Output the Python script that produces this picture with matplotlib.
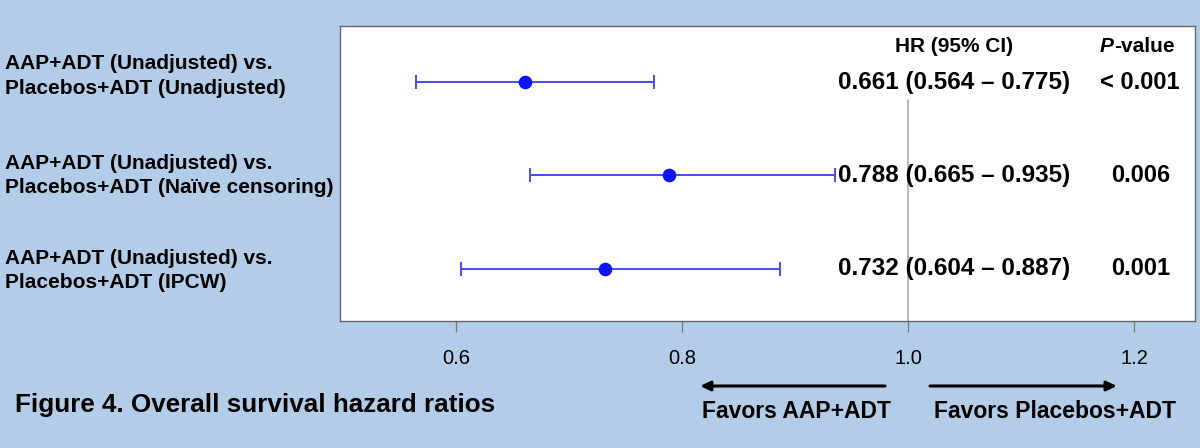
import matplotlib
matplotlib.use("Agg")
import matplotlib.pyplot as plt
from matplotlib.patches import FancyArrowPatch
from matplotlib.transforms import blended_transform_factory

plt.rcParams['font.family'] = ['Liberation Sans', 'DejaVu Sans']

# Data
labels = [
    "AAP+ADT (Unadjusted) vs.\nPlacebos+ADT (Unadjusted)",
    "AAP+ADT (Unadjusted) vs.\nPlacebos+ADT (Naïve censoring)",
    "AAP+ADT (Unadjusted) vs.\nPlacebos+ADT (IPCW)",
]
hr = [0.661, 0.788, 0.732]
lower = [0.564, 0.665, 0.604]
upper = [0.775, 0.935, 0.887]
pvalues = ["< 0.001", "0.006", "0.001"]
xticks = [0.6, 0.8, 1.0, 1.2]
xticklabels = ["0.6", "0.8", "1.0", "1.2"]

bg = "#b3cce8"
fig = plt.figure(figsize=(12, 4.48), dpi=100, facecolor=bg)
ax = fig.add_axes([340/1200, 1-321/448, (1195-340)/1200, (321-26)/448])
ax.set_facecolor("white")

ys = [3, 2, 1]
label_offsets = [0.065, 0.0, -0.02]
ax.set_xlim(0.497, 1.254)
ax.set_ylim(0.44, 3.60)

# reference line
ax.plot([1.0, 1.0], [0.44, 2.81], color="#aaaaaa", lw=1.2, zorder=1)

for y, h, lo, up in zip(ys, hr, lower, upper):
    ax.errorbar(h, y, xerr=[[h-lo], [up-h]], fmt="none", ecolor="#4a4aff",
                elinewidth=1.4, capsize=4.7, capthick=1.4, zorder=2)
    ax.plot(h, y, "o", color="#0a14ff", ms=8.8, zorder=3)

# table text
hr_x = 1.041
p_split = 1.182
p_x = 1.2055
head_y = 3.376
ax.text(hr_x, head_y, "HR (95% CI)", ha="center", va="center",
        fontsize=15, fontweight="bold")
ax.text(p_split, head_y, "P", ha="right", va="center", fontsize=15,
        fontweight="bold", fontstyle="italic")
ax.text(p_split, head_y, "-value", ha="left", va="center", fontsize=15,
        fontweight="bold")
for y, h, lo, up, p in zip(ys, hr, lower, upper, pvalues):
    ax.text(hr_x, y, f"{h:.3f} ({lo:.3f} – {up:.3f})", ha="center", va="center",
            fontsize=17.5, fontweight="bold")
    ax.text(p_x, y, p, ha="center", va="center", fontsize=17, fontweight="bold")

ax.set_yticks([])
ax.set_xticks(xticks)
ax.set_xticklabels(xticklabels, fontsize=14.5)
ax.tick_params(axis="x", length=8, width=0.9, color="#777777", pad=12)
for s in ax.spines.values():
    s.set_color("#666666")
    s.set_linewidth(1.0)

# left labels
lab_tr = blended_transform_factory(fig.transFigure, ax.transData)
for y, off, lab in zip(ys, label_offsets, labels):
    ax.text(5/1200, y + off, lab, transform=lab_tr, ha="left",
            va="center", fontsize=15, fontweight="bold", linespacing=1.38)

# caption
fig.text(15/1200, 1-405/448, "Figure 4. Overall survival hazard ratios",
         ha="left", va="center", fontsize=18.7, fontweight="bold")

# arrows
fig.add_artist(FancyArrowPatch(
    (885/1200, 1-386/448), (700/1200, 1-386/448), transform=fig.transFigure,
    arrowstyle="-|>,head_length=6,head_width=2.8", color="black", lw=2.2,
    shrinkA=0, shrinkB=0))
fig.add_artist(FancyArrowPatch(
    (930/1200, 1-386/448), (1117/1200, 1-386/448), transform=fig.transFigure,
    arrowstyle="-|>,head_length=6,head_width=2.8", color="black", lw=2.2,
    shrinkA=0, shrinkB=0))
fig.text(797/1200, 1-411/448, "Favors AAP+ADT", ha="center", va="center",
         fontsize=16.5, fontweight="bold")
fig.text(1055/1200, 1-411/448, "Favors Placebos+ADT", ha="center", va="center",
         fontsize=16.5, fontweight="bold")

fig.savefig("out.png", dpi=100, facecolor=bg)
